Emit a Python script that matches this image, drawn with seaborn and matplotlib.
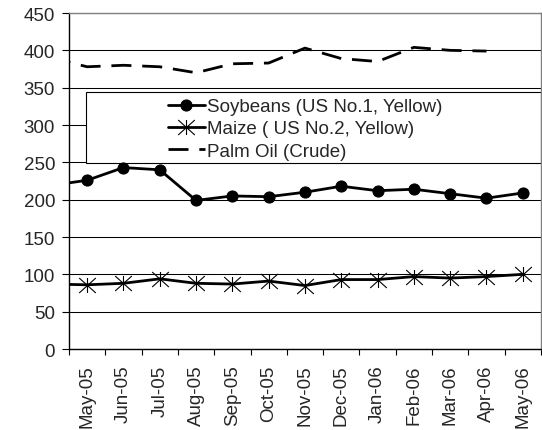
import pandas as pd
import matplotlib
matplotlib.use("Agg")
import matplotlib.pyplot as plt
from matplotlib.path import Path
from matplotlib.patches import Rectangle
import seaborn as sns
import numpy as np

# monthly prices (first month sits just off the left edge of the chart)
months = ['Apr-05', 'May-05', 'Jun-05', 'Jul-05', 'Aug-05', 'Sep-05', 'Oct-05',
          'Nov-05', 'Dec-05', 'Jan-06', 'Feb-06', 'Mar-06', 'Apr-06', 'May-06']
soybeans = [219, 226, 243, 240, 199, 205, 204, 210, 218, 212, 214, 208, 202, 209]
maize = [87, 86, 88, 94, 88, 87, 91, 85, 93, 93, 97, 95, 97, 100]
palm_oil = [390, 378, 380, 378, 370, 382, 383, 403, 389, 385, 404, 400, 399, np.nan]

labels = ['Soybeans (US No.1, Yellow)', 'Maize ( US No.2, Yellow)', 'Palm Oil (Crude)']

sns.set_style('white')
plt.rcParams['font.family'] = ['Liberation Sans', 'DejaVu Sans']

pos = np.arange(len(months)) - 1
df = pd.DataFrame({'pos': pos, 'soy': soybeans, 'maize': maize, 'palm': palm_oil})

# asterisk marker like the spreadsheet one
star = Path([(0, -0.9), (0, 0.9), (-1, -0.9), (1, 0.9), (-1, 0.9), (1, -0.9)],
            [Path.MOVETO, Path.LINETO] * 3)

fig = plt.figure(figsize=(5.42, 4.31), dpi=100)
ax = fig.add_axes([0.1273, 0.1879, 0.8707, 0.7796])

sns.lineplot(data=df, x='pos', y='soy', ax=ax, color='black', lw=2, marker='o',
             markersize=8, markeredgecolor='black', label=labels[0])
sns.lineplot(data=df, x='pos', y='maize', ax=ax, color='black', lw=2, marker=star,
             markersize=12, markeredgewidth=0.8, markeredgecolor='black', label=labels[1])
sns.lineplot(data=df, x='pos', y='palm', ax=ax, color='black', lw=2,
             linestyle=(0, (7.2, 3.9)), label=labels[2])

ax.set_xlim(-0.5, len(months) - 1.5)
ax.set_ylim(0, 450)
ax.set_yticks(np.arange(0, 451, 50))
ax.set_xticks(pos[1:])
ax.set_xticklabels(months[1:], rotation=90)
ax.set_xticks(np.arange(-0.5, len(months) - 1, 1), minor=True)
ax.tick_params(axis='x', which='major', length=0, pad=11, labelsize=13.5)
ax.tick_params(axis='x', which='minor', length=4, width=0.8, color='black', direction='out')
ax.tick_params(axis='y', length=5, width=0.8, color='black', direction='out', pad=5, labelsize=13.5)
ax.xaxis.set_ticks_position('bottom')
ax.yaxis.set_ticks_position('left')
ax.set_xlabel('')
ax.set_ylabel('')

ax.set_axisbelow(True)
ax.grid(axis='y', color='black', lw=0.75)
for side in ['left', 'bottom']:
    ax.spines[side].set_color('black')
    ax.spines[side].set_linewidth(1)
for side in ['top', 'right']:
    ax.spines[side].set_color('#808080')
    ax.spines[side].set_linewidth(1)

# legend box, white, covers the grid
ax.add_patch(Rectangle((0.036, 0.554), 0.964, 0.211, transform=ax.transAxes,
                       facecolor='white', edgecolor='black', lw=0.8, zorder=1))
handles, labs = ax.get_legend_handles_labels()
ax.legend(handles, labs, loc='center left', bbox_to_anchor=(0.2097, 0.655),
          frameon=False, fontsize=13.5, handlelength=1.95, handletextpad=0.15,
          labelspacing=0.27, borderpad=0, borderaxespad=0)

fig.savefig('out.png', dpi=100)
